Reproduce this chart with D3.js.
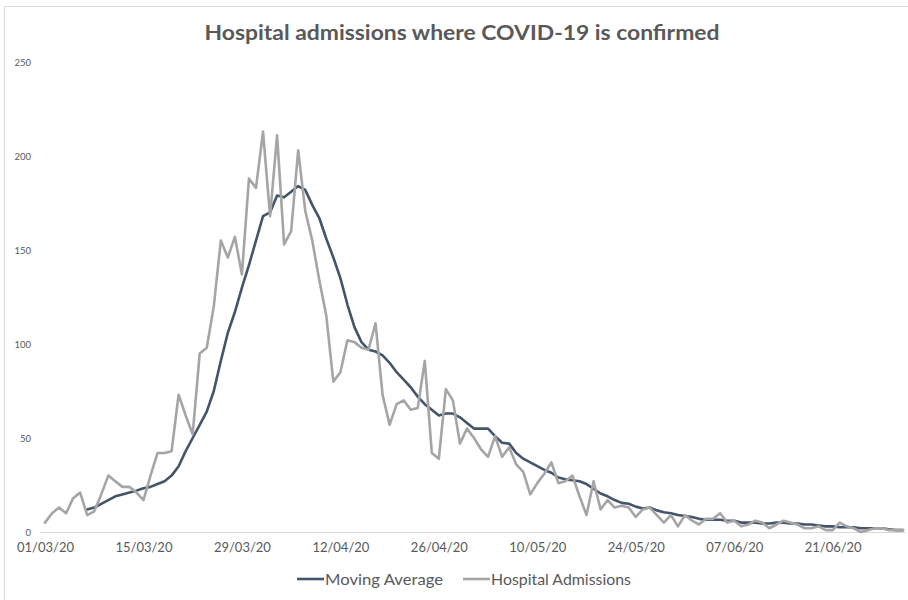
<!DOCTYPE html>
<html>
<head>
<meta charset="utf-8">
<script src="https://cdn.jsdelivr.net/npm/d3@7"></script>
<style>
  html, body { margin: 0; padding: 0; background: #ffffff; }
  svg { display: block; }
</style>
</head>
<body>
<svg id="chart" width="908" height="600"></svg>
<script>
// ---- data ----
const startDate = "2020-03-01";
const admissions = [5,10,13,10,18,21,9,11,20,30,27,24,24,21,17,30,42,42,43,73,
  62,52,95,98,120,155,146,157,137,188,183,213,168,211,153,160,203,171,155,134,
  115,80,85,102,101,98,97,111,73,57,68,70,65,66,91,42,39,76,70,47,
  55,50,44,40,51,40,45,36,32,20,26,31,37,26,27,30,19,9,27,12,
  17,13,14,13,8,12,13,9,5,9,3,9,6,4,7,7,10,5,6,3,
  4,6,5,2,4,6,5,4,2,2,3,1,1,5,3,2,0,1,2,2,
  1,1,1];
const movingAverage = [null,null,null,null,null,null,12,13,15,17,19,20,21,22,23.3,24,25.5,27,30,35,
  43,50,57,64,75,91,106,117,130,142,155,168,170,179,178,181,184,182,174,167,
  156,146,135,121,109,101,97,96,94,90,85,81,77,72,68,65,62,63,63,61,
  58,55,55,55,51,47.5,47,42,39,37,35,33,31.5,29,28,27.5,27,25.5,23,20.5,
  19,17,15.5,15,13.5,12.5,13,11.5,10.5,10,9,8.5,8,7,6.5,6.5,6.5,6,6,5,
  5,5,4.5,4.5,5,5,4.5,4.5,4,4,3.5,3,3,2.5,2.5,2.5,2,2,2,2,
  1.5,1,1];
const xTickLabels = ["01/03/20","15/03/20","29/03/20","12/04/20","26/04/20","10/05/20","24/05/20","07/06/20","21/06/20"];
const yTicks = [0,50,100,150,200,250];
const seriesNames = ["Moving Average","Hospital Admissions"];
const title = "Hospital admissions where COVID-19 is confirmed";

// ---- build ----
const parseISO = d3.timeParse("%Y-%m-%d");
const parseTick = d3.timeParse("%d/%m/%y");
const start = parseISO(startDate);
const dates = admissions.map((_, i) => d3.timeDay.offset(start, i));

const svg = d3.select("#chart");
const FONT = "Lato, 'Open Sans', sans-serif";
const textColor = "#595959";
const darkColor = "#44546A";
const greyColor = "#A5A5A5";

// chart border
svg.append("rect")
  .attr("x", 4.5).attr("y", 6.5)
  .attr("width", 910).attr("height", 600)
  .attr("fill", "#ffffff")
  .attr("stroke", "#d9d9d9").attr("stroke-width", 1);

const x = d3.scaleTime()
  .domain([start, dates[dates.length - 1]])
  .range([45, 903]);
const y = d3.scaleLinear().domain([0, 250]).range([532, 62]);

// title
svg.append("text")
  .attr("x", 462).attr("y", 40)
  .attr("text-anchor", "middle")
  .attr("font-family", FONT)
  .attr("font-weight", "bold")
  .attr("font-size", 21)
  .attr("fill", textColor)
  .attr("textLength", 515)
  .attr("lengthAdjust", "spacingAndGlyphs")
  .text(title);

// y axis labels (no line, no gridlines)
const yAxis = d3.axisLeft(y).tickValues(yTicks).tickSize(0).tickPadding(0);
const gy = svg.append("g").attr("transform", "translate(31,0)").call(yAxis);
gy.select(".domain").remove();
gy.selectAll("text")
  .attr("font-family", FONT)
  .attr("font-size", 9.5)
  .attr("fill", textColor);

// x axis
const tickDates = xTickLabels.map(parseTick);
const xAxis = d3.axisBottom(x).tickValues(tickDates).tickSize(0).tickPadding(11)
  .tickFormat((d, i) => xTickLabels[i]);
const gx = svg.append("g").attr("transform", "translate(0,532)").call(xAxis);
gx.select(".domain")
  .attr("d", "M40,0.5H905")
  .attr("stroke", "#d9d9d9").attr("stroke-width", 1.2);
gx.selectAll("text")
  .attr("font-family", FONT)
  .attr("font-size", 13)
  .attr("fill", textColor);

// lines
const line = d3.line()
  .defined(d => d.v !== null)
  .x(d => x(d.date))
  .y(d => y(d.v));

const maData = dates.map((date, i) => ({ date, v: movingAverage[i] }));
const adData = dates.map((date, i) => ({ date, v: admissions[i] }));

svg.append("path")
  .datum(maData)
  .attr("fill", "none")
  .attr("stroke", darkColor)
  .attr("stroke-width", 2.6)
  .attr("stroke-linejoin", "round")
  .attr("stroke-linecap", "round")
  .attr("d", line);

svg.append("path")
  .datum(adData)
  .attr("fill", "none")
  .attr("stroke", greyColor)
  .attr("stroke-width", 2.6)
  .attr("stroke-linejoin", "round")
  .attr("stroke-linecap", "round")
  .attr("d", line);

// legend
const legend = [
  { name: seriesNames[0], color: darkColor, x: 297, w: 118 },
  { name: seriesNames[1], color: greyColor, x: 463, w: 140 }
];
const lg = svg.append("g");
legend.forEach(l => {
  lg.append("line")
    .attr("x1", l.x).attr("x2", l.x + 27)
    .attr("y1", 579).attr("y2", 579)
    .attr("stroke", l.color).attr("stroke-width", 2.6);
  lg.append("text")
    .attr("x", l.x + 28).attr("y", 585)
    .attr("font-family", FONT)
    .attr("font-size", 16)
    .attr("fill", textColor)
    .attr("textLength", l.w)
    .attr("lengthAdjust", "spacingAndGlyphs")
    .text(l.name);
});
</script>
</body>
</html>
